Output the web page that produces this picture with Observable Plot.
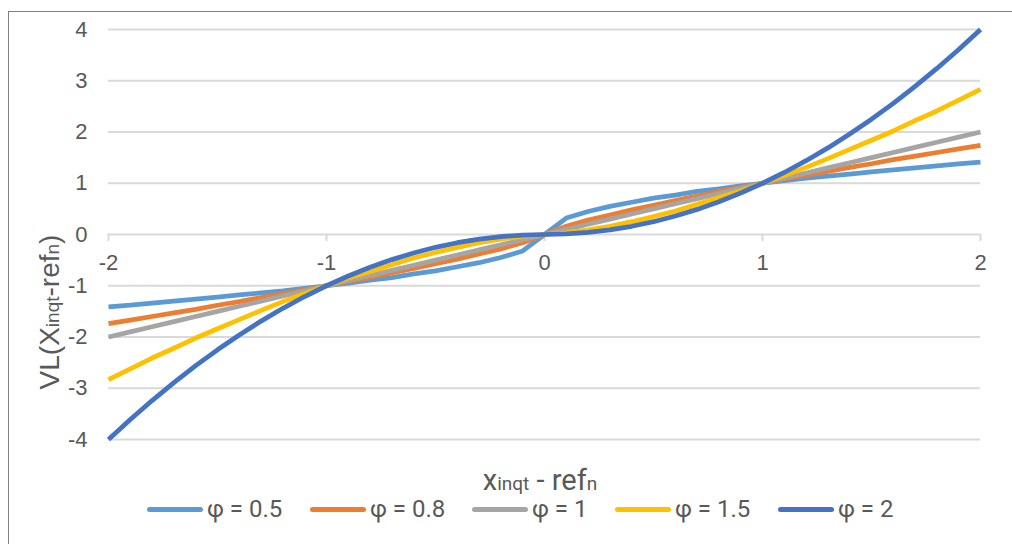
<!DOCTYPE html>
<html><head><meta charset="utf-8">
<script src="https://cdn.jsdelivr.net/npm/d3@7"></script>
<script src="https://cdn.jsdelivr.net/npm/@observablehq/plot@0.6"></script>
<style>
body{margin:0;background:#fff;}
#wrap{position:relative;width:1012px;height:544px;overflow:hidden;background:#fff;}
#frame{position:absolute;left:8px;top:11px;width:1100px;height:600px;border-top:1.5px solid #7f7f7f;border-left:1.5px solid #7f7f7f;box-sizing:border-box;}
#chart{position:absolute;left:0;top:0;}
.item{position:absolute;top:494px;height:30px;display:flex;align-items:center;font-family:Roboto,"Liberation Sans",sans-serif;font-size:24px;color:#595959;white-space:nowrap;}
.sw{width:56px;height:5px;border-radius:3px;margin-right:4px;}
</style>
</head><body>
<div id="wrap"><div id="frame"></div><div id="chart"></div></div>
<script>
const xs = [-2,-1.9,-1.8,-1.7,-1.6,-1.5,-1.4,-1.3,-1.2,-1.1,-1,-0.9,-0.8,-0.7,-0.6,-0.5,-0.4,-0.3,-0.2,-0.1,0,0.1,0.2,0.3,0.4,0.5,0.6,0.7,0.8,0.9,1,1.1,1.2,1.3,1.4,1.5,1.6,1.7,1.8,1.9,2];
const phi05 = [-1.41,-1.38,-1.34,-1.30,-1.26,-1.22,-1.18,-1.14,-1.10,-1.05,-1,-0.95,-0.89,-0.84,-0.77,-0.71,-0.63,-0.55,-0.45,-0.32,0,0.32,0.45,0.55,0.63,0.71,0.77,0.84,0.89,0.95,1,1.05,1.10,1.14,1.18,1.22,1.26,1.30,1.34,1.38,1.41];
const phi08 = [-1.74,-1.67,-1.60,-1.53,-1.46,-1.38,-1.31,-1.23,-1.16,-1.08,-1,-0.92,-0.84,-0.75,-0.66,-0.57,-0.48,-0.38,-0.28,-0.16,0,0.16,0.28,0.38,0.48,0.57,0.66,0.75,0.84,0.92,1,1.08,1.16,1.23,1.31,1.38,1.46,1.53,1.60,1.67,1.74];
const phi1 = [-2,-1.9,-1.8,-1.7,-1.6,-1.5,-1.4,-1.3,-1.2,-1.1,-1,-0.9,-0.8,-0.7,-0.6,-0.5,-0.4,-0.3,-0.2,-0.1,0,0.1,0.2,0.3,0.4,0.5,0.6,0.7,0.8,0.9,1,1.1,1.2,1.3,1.4,1.5,1.6,1.7,1.8,1.9,2];
const phi15 = [-2.83,-2.62,-2.41,-2.22,-2.02,-1.84,-1.66,-1.48,-1.31,-1.15,-1,-0.85,-0.72,-0.59,-0.46,-0.35,-0.25,-0.16,-0.09,-0.03,0,0.03,0.09,0.16,0.25,0.35,0.46,0.59,0.72,0.85,1,1.15,1.31,1.48,1.66,1.84,2.02,2.22,2.41,2.62,2.83];
const phi2 = [-4,-3.61,-3.24,-2.89,-2.56,-2.25,-1.96,-1.69,-1.44,-1.21,-1,-0.81,-0.64,-0.49,-0.36,-0.25,-0.16,-0.09,-0.04,-0.01,0,0.01,0.04,0.09,0.16,0.25,0.36,0.49,0.64,0.81,1,1.21,1.44,1.69,1.96,2.25,2.56,2.89,3.24,3.61,4];
const seriesNames = ["φ = 0.5","φ = 0.8","φ = 1","φ = 1.5","φ = 2"];
const seriesColors = ["#5B9BD5","#ED7D31","#A5A5A5","#FFC000","#4472C4"];
const xTicks = [-2,-1,0,1,2];
const yTicks = [-4,-3,-2,-1,0,1,2,3,4];

const allSeries = [phi05, phi08, phi1, phi15, phi2];
const data = [];
allSeries.forEach((arr, i) => arr.forEach((v, j) => data.push({x: xs[j], y: v, series: seriesNames[i]})));

const W = 1012, H = 494;
const chart = Plot.plot({
  width: W, height: H,
  marginLeft: 108, marginRight: 32, marginTop: 29, marginBottom: 55,
  x: {domain: [-2, 2], axis: null},
  y: {domain: [-4, 4], axis: null},
  color: {domain: seriesNames, range: seriesColors},
  style: {fontFamily: "'Liberation Sans', Arial, sans-serif", fontSize: "22px", color: "#595959", background: "transparent", overflow: "visible"},
  marks: [
    Plot.ruleY(yTicks, {stroke: "#d9d9d9", strokeWidth: 2}),
    Plot.ruleX(xTicks, {x: d => d, y1: 0, y2: 0, insetBottom: -7, stroke: "#d9d9d9", strokeWidth: 2}),
    Plot.axisY({ticks: yTicks, tickSize: 0, tickPadding: 21, label: null, fontSize: 22, tickFormat: d => String(d)}),
    Plot.text(xTicks, {x: d => d, y: 0, dy: 28, text: d => String(d), fontSize: 22, fill: "#595959", textAnchor: "middle", lineAnchor: "middle"}),
    Plot.line(data, {x: "x", y: "y", z: "series", stroke: "series", strokeWidth: 4.75, strokeLinejoin: "round", strokeLinecap: "butt"})
  ]
});
document.getElementById("chart").appendChild(chart);

const svg = d3.select(chart);
// x-axis title
const xt = svg.append("text").attr("x", 540).attr("y", 490).attr("text-anchor", "middle")
  .attr("fill", "#595959").attr("font-family", "Roboto, 'Liberation Sans', sans-serif").attr("font-size", 29);
xt.append("tspan").text("x");
xt.append("tspan").attr("font-size", 19).text("inqt");
xt.append("tspan").text(" - ref");
xt.append("tspan").attr("font-size", 19).text("n");
// y-axis title
const yt = svg.append("text").attr("transform", "translate(59,312) rotate(-90)").attr("text-anchor", "middle")
  .attr("fill", "#595959").attr("font-family", "'Liberation Sans', Arial, sans-serif").attr("font-size", 28);
yt.append("tspan").text("VL(X");
yt.append("tspan").attr("font-size", 19).text("inqt");
yt.append("tspan").text("-ref");
yt.append("tspan").attr("font-size", 19).text("n");
yt.append("tspan").text(")");

// legend
const legendLeft = [147, 310, 472, 615, 778];
const wrap = document.getElementById("wrap");
seriesNames.forEach((name, i) => {
  const it = document.createElement("div");
  it.className = "item";
  it.style.left = legendLeft[i] + "px";
  const sw = document.createElement("div");
  sw.className = "sw";
  sw.style.background = seriesColors[i];
  const tx = document.createElement("span");
  tx.textContent = name;
  it.appendChild(sw); it.appendChild(tx);
  wrap.appendChild(it);
});
</script>
</body></html>
